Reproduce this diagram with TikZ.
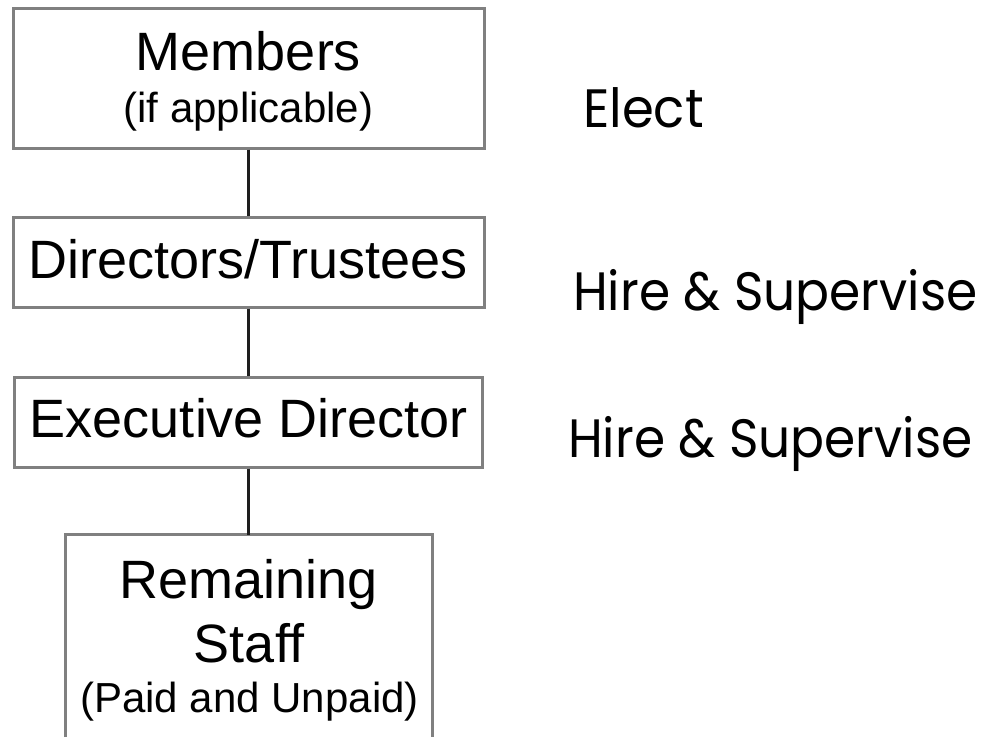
\documentclass[tikz,border=0pt]{standalone}
\usepackage{fontspec}
\setmainfont{Liberation Sans}
\newfontfamily\gothic{Poppins}
\definecolor{boxgray}{RGB}{128,128,128}
\definecolor{linedark}{RGB}{30,30,30}
\begin{document}
\begin{tikzpicture}[x=1pt,y=-1pt,
  boxshape/.style={draw=boxgray, line width=3pt, rectangle, inner sep=0pt},
  txt/.style={inner sep=0pt, anchor=base, text=black},
  big/.style={font=\fontsize{54}{60}\selectfont},
  small/.style={font=\fontsize{42}{48}\selectfont},
  side/.style={inner sep=0pt, anchor=base west, font=\gothic\fontsize{54}{60}\selectfont},
  conn/.style={draw=linedark, line width=2.4pt}]
\useasboundingbox (0,0) rectangle (990,737);
\fill[white] (0,0) rectangle (990,737);
% boxes
\node[boxshape, minimum width=471pt, minimum height=140pt] (members) at (248.5,78) {};
\node[boxshape, minimum width=471pt, minimum height=90pt] (directors) at (248.5,262) {};
\node[boxshape, minimum width=468pt, minimum height=90pt] (exec) at (248,422) {};
\node[inner sep=0pt, minimum width=366pt, minimum height=202pt] (staff) at (249,636) {};
\draw[draw=boxgray, line width=3pt] (staff.south west) -- (staff.north west) -- (staff.north east) -- (staff.south east);
% box texts
\node[txt, big] (tmembers) at (248.5,70) {Members};
\node[txt, small] (tif) at (248.5,122) {(if applicable)};
\node[txt, big] (tdirectors) at (248,278) {Directors/Trustees};
\node[txt, big] (texec) at (249,437) {Executive Director};
\node[txt, big] (tremain) at (249,598) {Remaining};
\node[txt, big] (tstaff) at (249,662) {Staff};
\node[txt, small] (tpaid) at (249.5,712) {(Paid and Unpaid)};
% connectors
\draw[conn] (members.south) -- (members.south |- directors.north);
\draw[conn] (members.south |- directors.south) -- (members.south |- exec.north);
\draw[conn] (members.south |- exec.south) -- (members.south |- staff.north);
% side labels
\node[side] (elect) at (583,127) {\scalebox{0.95}[1]{Elect}};
\node[side] (hire1) at (573,310) {\scalebox{0.93}[1]{Hire \& Supervise}};
\node[side] (hire2) at (568,457) {\scalebox{0.93}[1]{Hire \& Supervise}};
\end{tikzpicture}
\end{document}
